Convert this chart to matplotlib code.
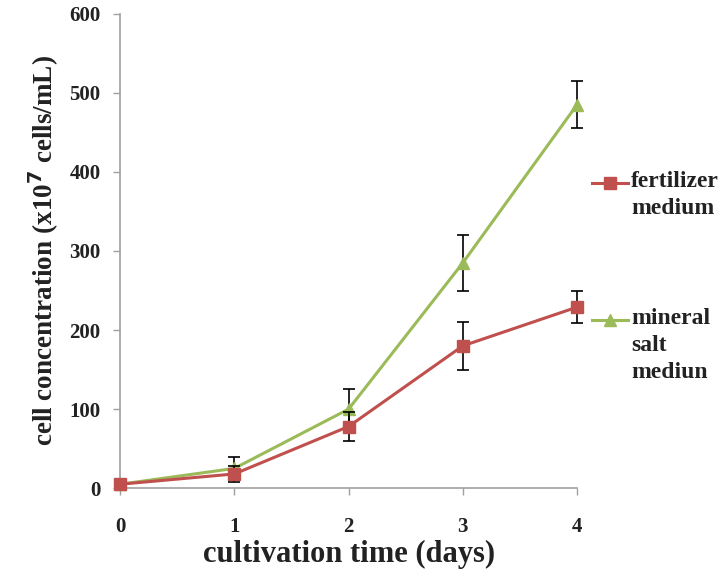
import matplotlib
matplotlib.use("Agg")
import matplotlib.pyplot as plt
from matplotlib.lines import Line2D

days = [0, 1, 2, 3, 4]
fert = [5, 18, 78, 180, 229]
fert_err = [4, 10, 18, 30, 20]
mineral = [5, 25, 100, 285, 485]
mineral_err = [4, 15, 25, 35, 30]

RED = "#C0504D"
GREEN = "#9BBB59"

plt.rcParams["font.family"] = ["Liberation Serif", "DejaVu Serif"]
plt.rcParams["font.weight"] = "bold"

fig = plt.figure(figsize=(7.24, 5.75), dpi=100)
ax = fig.add_axes([0.166, 0.151, 0.631, 0.825])

ax.errorbar(days, mineral, yerr=mineral_err, color=GREEN, ecolor="black",
            elinewidth=1.2, capsize=4, capthick=1.2, marker="^", markersize=8,
            linewidth=2.2, clip_on=False, zorder=3)
ax.errorbar(days, fert, yerr=fert_err, color=RED, ecolor="black",
            elinewidth=1.2, capsize=4, capthick=1.2, marker="s", markersize=8,
            linewidth=2.2, clip_on=False, zorder=4)

ax.set_xlim(0, 4)
ax.set_ylim(0, 600)
ax.set_xticks(days)
ax.set_yticks(range(0, 601, 100))
for s in ["top", "right"]:
    ax.spines[s].set_visible(False)
for s in ["left", "bottom"]:
    ax.spines[s].set_color("#a0a0a0")
    ax.spines[s].set_linewidth(1.2)
ax.tick_params(colors="#a0a0a0", labelcolor="#222222", labelsize=15,
               length=5, width=1)
ax.tick_params(axis="x", pad=16)
ax.tick_params(axis="y", pad=9)
for lbl in ax.get_xticklabels() + ax.get_yticklabels():
    lbl.set_fontweight("bold")

ax.set_xlabel("cultivation time (days)", fontsize=22, fontweight="bold",
              color="#222222", labelpad=2)
ax.set_ylabel("cell concentration (x10$^{\\mathbf{7}}$ cells/mL)", fontsize=19.5,
              fontweight="bold", color="#222222", labelpad=6)

# legend on the right
W, H = 724, 575
entries = [("fertilizer\nmedium", RED, "s", 183), ("mineral\nsalt\nmediun", GREEN, "^", 320)]
for label, col, mk, ypx in entries:
    yf = 1 - ypx / H
    fig.add_artist(Line2D([592 / W, 628 / W], [yf, yf], color=col, linewidth=2.2,
                          transform=fig.transFigure))
    fig.add_artist(Line2D([610 / W], [yf], color=col, marker=mk, markersize=8,
                          transform=fig.transFigure))
    fig.text(631 / W, yf + 12 / H, label, fontsize=17, fontweight="bold",
             va="top", ha="left", color="#222222", linespacing=1.38)

plt.savefig("out.png", dpi=100)
plt.close()
